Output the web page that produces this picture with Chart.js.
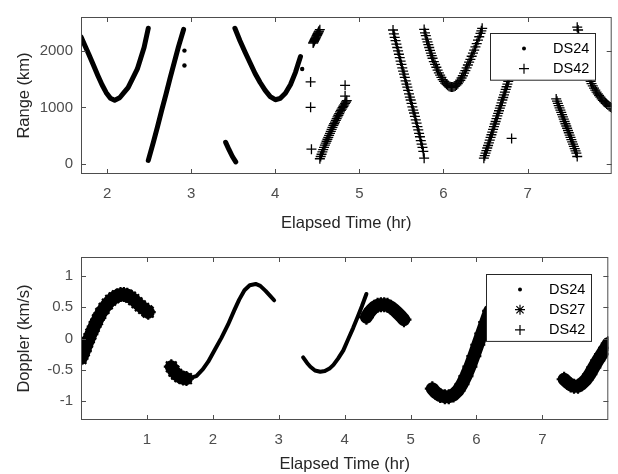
<!DOCTYPE html>
<html>
<head>
<meta charset="utf-8">
<script src="https://cdn.jsdelivr.net/npm/chart.js@4.4.1/dist/chart.umd.min.js"></script>
<style>
  html, body { margin: 0; padding: 0; background: #fff; }
  #wrap { position: relative; width: 618px; height: 474px; }
  canvas { position: absolute; left: 0; }
  #range-chart { top: 0; }
  #doppler-chart { top: 240px; }
</style>
</head>
<body>
<div id="wrap">
  <canvas id="range-chart" width="618" height="240"></canvas>
  <canvas id="doppler-chart" width="618" height="234"></canvas>
</div>
<script>
// AXES
// ---------------------------------------------------
const rangeXLim = [ 1.69, 8.0 ];
const rangeYLim = [ -180, 2600 ];
const rangeXTicks = [ 2, 3, 4, 5, 6, 7 ];
const rangeYTicks = [ 0, 1000, 2000 ];
const dopplerXLim = [ 0, 8.0 ];
const dopplerYLim = [ -1.3, 1.3 ];
const dopplerXTicks = [ 1, 2, 3, 4, 5, 6, 7 ];
const dopplerYTicks = [ -1, -0.5, 0, 0.5, 1 ];

// RANGE DATA  [elapsed hr, km]
// ---------------------------------------------------
const rangeDS24Tracks = [
    [ [1.69,2250],[1.74,2080],[1.78,1950],[1.84,1740],[1.89,1565],[1.94,1400],[1.99,1260],[2.04,1160],
      [2.09,1125],[2.15,1170],[2.20,1260],[2.25,1350],[2.30,1500],[2.36,1680],[2.40,1870],[2.44,2060],[2.49,2400] ],
    [ [2.49,60],[2.55,380],[2.60,660],[2.65,950],[2.70,1230],[2.75,1520],[2.80,1800],[2.85,2080],[2.91,2380] ],
    [ [3.41,380],[3.45,250],[3.49,130],[3.53,35] ],
    [ [3.52,2400],[3.58,2180],[3.64,1980],[3.70,1790],[3.76,1600],[3.82,1440],[3.88,1300],[3.94,1190],
      [4.00,1135],[4.06,1160],[4.12,1250],[4.18,1400],[4.24,1620],[4.30,1900] ]
];
const rangeDS24Dots = [ [2.92,2005],[2.92,1740],[4.32,1680] ];
const rangeDS42Tracks = [
    [ [4.45,2140],[4.455,2155],[4.46,2170],[4.465,2185],[4.47,2200],[4.475,2215],[4.48,2230],[4.485,2245],
      [4.49,2260],[4.495,2275],[4.50,2290],[4.505,2305],[4.51,2320],[4.515,2335],[4.52,2350],[4.53,2375] ],
    [ [4.53,90],[4.54,130],[4.55,170],[4.56,210],[4.57,250],[4.58,290],[4.59,330],[4.60,365],[4.61,400],
      [4.62,435],[4.63,470],[4.64,505],[4.65,540],[4.66,575],[4.67,610],[4.68,645],[4.69,680],[4.70,710],
      [4.71,740],[4.72,770],[4.73,800],[4.74,830],[4.75,860],[4.76,890],[4.77,920],[4.78,945],[4.79,970],
      [4.80,995],[4.81,1020],[4.82,1045],[4.83,1070],[4.84,1095],[4.85,1120] ],
    [ [5.40,2370],[5.41,2300],[5.42,2240],[5.43,2180],[5.44,2120],[5.45,2060],[5.46,2000],[5.47,1940],
      [5.48,1880],[5.49,1820],[5.50,1760],[5.51,1700],[5.52,1640],[5.53,1590],[5.54,1530],[5.55,1470],
      [5.56,1410],[5.57,1360],[5.58,1300],[5.59,1240],[5.60,1180],[5.61,1130],[5.62,1070],[5.63,1010],
      [5.64,950],[5.65,900],[5.66,840],[5.67,780],[5.68,720],[5.69,660],[5.70,600],[5.71,540],
      [5.72,480],[5.73,410],[5.74,350],[5.75,290],[5.76,220],[5.77,100] ],
    [ [5.77,2380],[5.78,2320],[5.79,2270],[5.80,2210],[5.81,2160],[5.82,2110],[5.83,2060],[5.84,2010],
      [5.85,1960],[5.86,1915],[5.87,1870],[5.885,1810],[5.90,1760],[5.915,1710],[5.93,1660],[5.945,1610],
      [5.96,1570],[5.975,1530],[5.99,1490],[6.005,1460],[6.02,1430],[6.035,1410],[6.05,1390],[6.065,1375],
      [6.08,1365],[6.095,1360],[6.11,1360],[6.125,1368],[6.14,1380],[6.155,1398],[6.17,1420],[6.185,1450],
      [6.20,1480],[6.215,1520],[6.23,1560],[6.245,1605],[6.26,1650],[6.275,1700],[6.29,1750],[6.305,1800],
      [6.32,1850],[6.335,1905],[6.35,1960],[6.365,2015],[6.38,2070],[6.395,2130],[6.41,2190],[6.425,2250],
      [6.44,2310],[6.45,2355],[6.46,2400] ],
    [ [6.48,100],[6.49,145],[6.50,190],[6.51,235],[6.52,280],[6.53,325],[6.54,370],[6.55,420],[6.56,470],
      [6.57,515],[6.58,560],[6.59,610],[6.60,660],[6.61,705],[6.62,750],[6.63,800],[6.64,850],[6.65,895],
      [6.66,940],[6.67,985],[6.68,1030],[6.69,1080],[6.70,1130],[6.71,1175],[6.72,1220],[6.73,1270],
      [6.74,1320],[6.75,1365],[6.76,1410],[6.77,1460],[6.78,1510],[6.80,1600],[6.82,1700],[6.84,1800] ],
    [ [7.34,1150],[7.35,1110],[7.36,1070],[7.37,1030],[7.38,990],[7.39,950],[7.40,910],[7.41,870],
      [7.42,830],[7.43,790],[7.44,750],[7.45,710],[7.46,670],[7.47,630],[7.48,590],[7.49,550],
      [7.50,510],[7.51,470],[7.52,430],[7.53,390],[7.54,350],[7.55,310],[7.56,270],[7.57,230],
      [7.58,190],[7.59,130] ],
    [ [7.59,2420],[7.60,2370],[7.62,2230],[7.64,2090],[7.66,1960],[7.68,1830],[7.70,1700],[7.71,1645],
      [7.72,1590],[7.73,1545],[7.74,1500],[7.75,1460],[7.76,1420],[7.775,1380],[7.79,1340],[7.805,1305],
      [7.82,1270],[7.835,1240],[7.85,1210],[7.865,1180],[7.88,1150],[7.895,1125],[7.91,1100],[7.925,1080],
      [7.94,1060],[7.955,1040],[7.97,1020],[7.985,1005],[8.00,990] ]
];
const rangeDS42Single = [ [4.42,1450],[4.42,1000],[4.43,260],[4.83,1390],[4.83,1200],[6.81,450] ];

// DOPPLER DATA  [elapsed hr, km/s]
// ---------------------------------------------------
const dopplerDS24Tracks = [
    [ [1.45,-0.52],[1.55,-0.60],[1.65,-0.63],[1.75,-0.60],[1.85,-0.49],[1.93,-0.37],[2.03,-0.18],[2.13,0.01],
      [2.23,0.22],[2.33,0.46],[2.40,0.62],[2.48,0.77],[2.56,0.85],[2.65,0.87],[2.72,0.84],[2.80,0.76],
      [2.87,0.68],[2.93,0.61] ],
    [ [3.37,-0.30],[3.43,-0.39],[3.48,-0.45],[3.55,-0.51],[3.63,-0.53],[3.70,-0.52],[3.77,-0.48],[3.83,-0.42],
      [3.90,-0.32],[3.98,-0.19],[4.05,-0.02],[4.13,0.17],[4.20,0.35],[4.26,0.51],[4.33,0.71] ]
];
const dopplerDS27Tracks = [
    [ [0.00,-0.32],[0.05,-0.20],[0.10,-0.06],[0.15,0.07],[0.20,0.19],[0.25,0.30],[0.30,0.40],[0.35,0.48],
      [0.40,0.55],[0.45,0.61],[0.50,0.65],[0.55,0.68],[0.60,0.70],[0.65,0.70],[0.70,0.69],[0.75,0.66],
      [0.80,0.62],[0.85,0.57],[0.90,0.52],[0.95,0.48],[1.00,0.44],[1.02,0.42] ],
    [ [1.37,-0.45],[1.41,-0.52],[1.45,-0.57],[1.50,-0.61],[1.55,-0.63],[1.60,-0.64] ]
];
const dopplerDS42Tracks = [
    [ [4.33,0.34],[4.37,0.41],[4.41,0.46],[4.45,0.50],[4.50,0.53],[4.55,0.54],[4.60,0.54],[4.65,0.53],
      [4.70,0.50],[4.75,0.46],[4.80,0.41],[4.85,0.36],[4.90,0.30] ],
    [ [5.33,-0.80],[5.38,-0.86],[5.45,-0.91],[5.52,-0.93],[5.58,-0.93],[5.65,-0.90],[5.72,-0.83],[5.78,-0.73],
      [5.84,-0.60],[5.90,-0.45],[5.96,-0.28],[6.02,-0.10],[6.08,0.08],[6.14,0.26],[6.20,0.44] ],
    [ [7.33,-0.65],[7.38,-0.70],[7.43,-0.74],[7.48,-0.76],[7.54,-0.76],[7.60,-0.72],[7.66,-0.66],[7.72,-0.57],
      [7.78,-0.46],[7.84,-0.35],[7.90,-0.25],[7.96,-0.15],[8.00,-0.08] ]
];

// DATASET HELPERS
// ---------------------------------------------------
function toXY( pts ) {
    return pts.map( p => ({ x: p[0], y: p[1] }) );
}
function trackSets( tracks, style ) {
    return tracks.map( t => Object.assign({ data: toXY( t ), clip: 0, borderColor: '#000',
        backgroundColor: '#000', showLine: true }, style ) );
}
const dotLine = { pointRadius: 0, borderCapStyle: 'round', borderJoinStyle: 'round' };
const blob = { borderWidth: 13, borderCapStyle: 'round', borderJoinStyle: 'round', pointRadius: 7.5, pointBorderWidth: 2.2 };

// MATLAB-STYLE BOX, INWARD TICKS AND LEGEND
// ---------------------------------------------------
function drawMarker( ctx, kind, x, y ) {
    ctx.beginPath();
    if ( kind === 'dot' ) {
        ctx.arc( x, y, 2, 0, Math.PI * 2 );
        ctx.fill();
        return;
    }
    const r = 5;
    ctx.moveTo( x - r, y ); ctx.lineTo( x + r, y );
    ctx.moveTo( x, y - r ); ctx.lineTo( x, y + r );
    if ( kind === 'star' ) {
        const d = r * 0.72;
        ctx.moveTo( x - d, y - d ); ctx.lineTo( x + d, y + d );
        ctx.moveTo( x - d, y + d ); ctx.lineTo( x + d, y - d );
    }
    ctx.stroke();
}
const matlabAxes = {
    id: 'matlabAxes',
    afterDraw( chart, args, opts ) {
        const { ctx, chartArea: a, scales } = chart;
        const tl = 5;
        ctx.save();
        ctx.strokeStyle = '#4d4d4d';
        ctx.lineWidth = 1;
        ctx.beginPath();
        scales.x.ticks.forEach( t => {
            const px = Math.round( scales.x.getPixelForValue( t.value ) ) + 0.5;
            ctx.moveTo( px, a.bottom ); ctx.lineTo( px, a.bottom - tl );
            ctx.moveTo( px, a.top ); ctx.lineTo( px, a.top + tl );
        });
        scales.y.ticks.forEach( t => {
            const py = Math.round( scales.y.getPixelForValue( t.value ) ) + 0.5;
            ctx.moveTo( a.left, py ); ctx.lineTo( a.left + tl, py );
            ctx.moveTo( a.right, py ); ctx.lineTo( a.right - tl, py );
        });
        ctx.stroke();
        ctx.strokeRect( a.left + 0.5, a.top + 0.5, a.width - 1, a.height - 1 );
        // legend
        const items = opts.items || [];
        const rowH = 20.2;
        const w = 105;
        const h = 15 + rowH * ( items.length - 1 ) + 11.5;
        const lx = Math.round( a.right - 17 - w ) + 0.5;
        const ly = Math.round( a.top + opts.top ) + 0.5;
        ctx.fillStyle = '#fff';
        ctx.fillRect( lx, ly, w, h );
        ctx.strokeStyle = '#262626';
        ctx.strokeRect( lx, ly, w, h );
        ctx.font = '14.5px "Liberation Sans", Arial, sans-serif';
        ctx.textBaseline = 'middle';
        ctx.textAlign = 'left';
        items.forEach( ( it, i ) => {
            const cy = ly + 15 + i * rowH;
            ctx.fillStyle = '#000';
            ctx.strokeStyle = '#000';
            ctx.lineWidth = 1.2;
            drawMarker( ctx, it.marker, lx + 33.5, cy );
            ctx.fillStyle = '#000';
            ctx.fillText( it.label, lx + 62.5, cy + 0.5 );
        });
        ctx.restore();
    }
};

function axisOptions( lim, ticks, title, opts ) {
    return {
        type: 'linear',
        min: lim[ 0 ],
        max: lim[ 1 ],
        grid: { display: false, drawTicks: false, tickLength: 0 },
        border: { display: false },
        afterBuildTicks: s => { s.ticks = ticks.map( v => ({ value: v }) ); },
        afterFit: opts.fit,
        ticks: {
            color: '#4d4d4d',
            padding: opts.pad,
            font: { family: '"Liberation Sans", Arial, sans-serif', size: 15 },
            callback: v => String( v )
        },
        title: {
            display: true,
            text: title,
            color: '#262626',
            font: { family: '"Liberation Sans", Arial, sans-serif', size: 16.5 },
            padding: opts.titlePad
        }
    };
}

function baseOptions( padTop, xAxis, yAxis, legendItems, legendTop ) {
    return {
        responsive: false,
        animation: false,
        events: [],
        layout: { padding: { top: padTop, right: 2, left: 0, bottom: 0 } },
        plugins: {
            legend: { display: false },
            tooltip: { enabled: false },
            matlabAxes: { items: legendItems, top: legendTop }
        },
        scales: { x: xAxis, y: yAxis }
    };
}

// RANGE CHART
// ---------------------------------------------------
const rangeSets = [].concat(
    trackSets( rangeDS24Tracks, Object.assign({ borderWidth: 5 }, dotLine ) ),
    trackSets( [ rangeDS24Dots ], { showLine: false, pointStyle: 'circle', pointRadius: 2.2, borderWidth: 0 } ),
    trackSets( rangeDS42Tracks, { borderWidth: 1.5, pointStyle: 'cross', pointRadius: 5, pointBorderWidth: 1.3 } ),
    trackSets( [ rangeDS42Single ], { showLine: false, pointStyle: 'cross', pointRadius: 5, pointBorderWidth: 1.3 } )
);
new Chart( document.getElementById( 'range-chart' ), {
    type: 'scatter',
    data: { datasets: rangeSets },
    options: baseOptions( 7,
        axisOptions( rangeXLim, rangeXTicks, 'Elapsed Time (hr)',
            { fit: s => { s.height = 66; }, pad: 11, titlePad: { top: 0, bottom: 7 } } ),
        axisOptions( rangeYLim, rangeYTicks, 'Range (km)',
            { fit: s => { s.width = 81; }, pad: 8, titlePad: { top: 15, bottom: 0 } } ),
        [ { label: 'DS24', marker: 'dot' }, { label: 'DS42', marker: 'cross' } ], 15.7 ),
    plugins: [ matlabAxes ]
});

// DOPPLER CHART
// ---------------------------------------------------
const dopplerSets = [].concat(
    trackSets( dopplerDS24Tracks, Object.assign({ borderWidth: 4 }, dotLine ) ),
    trackSets( dopplerDS27Tracks, Object.assign({ pointStyle: 'star' }, blob ) ),
    trackSets( dopplerDS42Tracks, Object.assign({ pointStyle: 'cross' }, blob ) )
);
new Chart( document.getElementById( 'doppler-chart' ), {
    type: 'scatter',
    data: { datasets: dopplerSets },
    options: baseOptions( 14,
        axisOptions( dopplerXLim, dopplerXTicks, 'Elapsed Time (hr)',
            { fit: s => { s.height = 54; }, pad: 11, titlePad: { top: 0, bottom: 0 } } ),
        axisOptions( dopplerYLim, dopplerYTicks, 'Doppler (km/s)',
            { fit: s => { s.width = 81; }, pad: 8, titlePad: { top: 15, bottom: 0 } } ),
        [ { label: 'DS24', marker: 'dot' }, { label: 'DS27', marker: 'star' }, { label: 'DS42', marker: 'cross' } ], 16.7 ),
    plugins: [ matlabAxes ]
});
</script>
</body>
</html>
